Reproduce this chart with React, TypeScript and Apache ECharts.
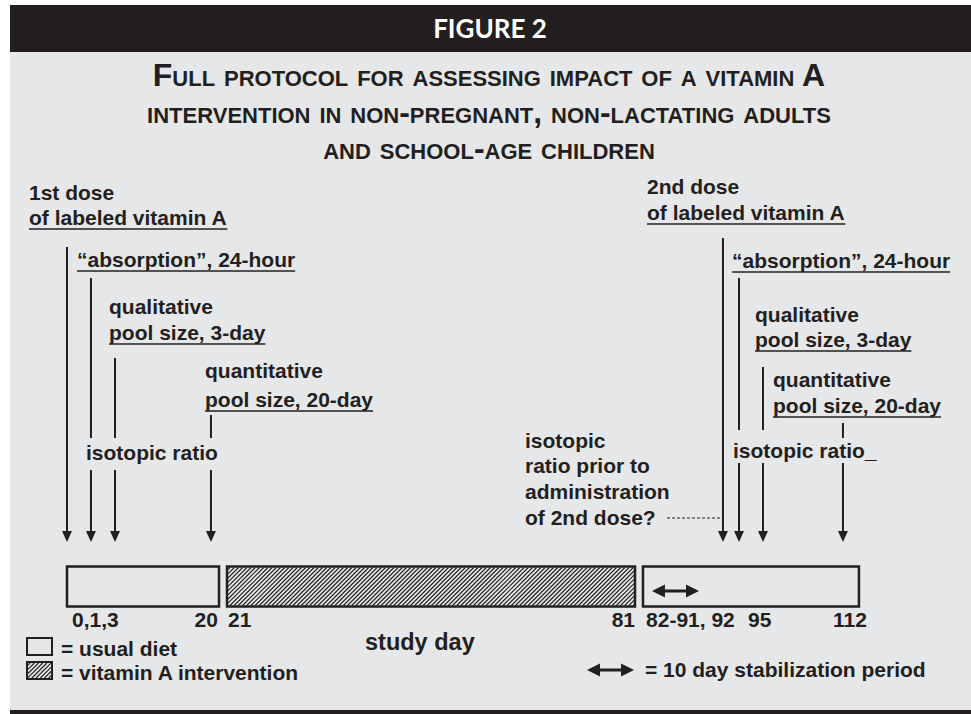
import React, { useEffect, useRef } from 'react';
import * as echarts from 'echarts';

// ---------------- data ----------------
// Study phases on the (schematic) study-day timeline
const phaseNames = ['usual diet', 'vitamin A intervention', 'usual diet'];
const phaseStart = [0, 22.63, 81.46];
const phaseEnd = [21.5, 80.33, 112];
const phaseHatched = [0, 1, 0];

// Sampling / dosing events (arrows) on the schematic timeline
const eventNames = [
  '1st dose', 'absorption 24-hour', 'qualitative pool size 3-day', 'quantitative pool size 20-day',
  '2nd dose', 'absorption 24-hour (2)', 'qualitative pool size 3-day (2)', 'quantitative pool size 20-day (2)',
];
const eventPos = [0, 3.39, 6.79, 20.36, 92.77, 95.04, 98.43, 109.74];

// Study-day tick labels
const dayLabels = ['0,1,3', '20', '21', '81', '82-91, 92', '95', '112'];
const dayLabelPos = [0.71, 21.35, 22.77, 80.33, 81.89, 96.31, 108.33];
const dayLabelAlign = ['left', 'right', 'left', 'right', 'left', 'left', 'left'];

// 10-day stabilization period (days 82-91)
const stabilizationRange = [82.73, 89.38];

// ---------------- layout / style ----------------
const W = 971;
const H = 714;
const INK = '#231f20';
const PAPER = '#e6e7e8';
const X_MIN = -9.475;
const X_MAX = 127.85;
const BAR_TOP = 566.5;
const BAR_BOTTOM = 606.5;
const ARROW_TIP = 542;
const EVENT_SEGMENTS: number[][][] = [
  [[247, ARROW_TIP]],
  [[278, 438], [470, ARROW_TIP]],
  [[358, 438], [470, ARROW_TIP]],
  [[415, 438], [470, ARROW_TIP]],
  [[238, ARROW_TIP]],
  [[278, 430], [463, ARROW_TIP]],
  [[367, 430], [463, ARROW_TIP]],
  [[423, 438], [463, ARROW_TIP]],
];

const bodyFont = (size: number) => `bold ${size}px 'Liberation Sans', Arial, sans-serif`;
const titleFont = `small-caps bold 32px 'Liberation Sans', Arial, sans-serif`;
const K_BODY = 0.347;

function hatchLines(x0: number, y0: number, x1: number, y1: number, step: number, lw: number) {
  const out: any[] = [];
  for (let c = x0 + y0 + step / 2; c < x1 + y1; c += step) {
    const sx = Math.max(x0, c - y1);
    const ex = Math.min(x1, c - y0);
    if (ex > sx) {
      out.push({
        type: 'line',
        shape: { x1: sx, y1: c - sx, x2: ex, y2: c - ex },
        style: { stroke: INK, lineWidth: lw },
      });
    }
  }
  return out;
}

function doubleArrow(x0: number, x1: number, y: number) {
  const head = 13;
  const half = 6.5;
  return [
    { type: 'line', shape: { x1: x0 + head - 1, y1: y, x2: x1 - head + 1, y2: y }, style: { stroke: INK, lineWidth: 3 } },
    { type: 'polygon', shape: { points: [[x0, y], [x0 + head, y - half], [x0 + head, y + half]] }, style: { fill: INK } },
    { type: 'polygon', shape: { points: [[x1, y], [x1 - head, y - half], [x1 - head, y + half]] }, style: { fill: INK } },
  ];
}

function textStyle(text: string, font: string, fill: string, align: string, extra: any = {}) {
  return {
    text,
    font,
    fill,
    align,
    verticalAlign: 'middle',
    textAlign: align,
    textVerticalAlign: 'middle',
    ...extra,
  };
}

export default function App() {
  const ref = useRef<HTMLDivElement>(null);

  useEffect(() => {
    if (!ref.current) return;
    const chart = echarts.init(ref.current, undefined, { renderer: 'svg', width: W, height: H });

    const ctx = document.createElement('canvas').getContext('2d') as CanvasRenderingContext2D;
    const measure = (t: string, f: string) => {
      ctx.font = f;
      return ctx.measureText(t).width;
    };

    const graphic: any[] = [];
    // backgrounds
    graphic.push({ type: 'rect', z: -10, shape: { x: 10, y: 52, width: W - 10, height: 658 }, style: { fill: PAPER } });
    graphic.push({ type: 'rect', z: -10, shape: { x: 10, y: 5, width: W - 10, height: 47 }, style: { fill: INK } });
    graphic.push({ type: 'rect', z: -10, shape: { x: 10, y: 710, width: W - 10, height: 4 }, style: { fill: INK } });

    // header
    graphic.push({ type: 'text', z: 10, x: 490, y: 28, style: textStyle('FIGURE 2', "bold 26px Lato, sans-serif", '#ffffff', 'center') });

    // title (small caps, three lines)
    graphic.push({
      type: 'text', z: 10, x: 489, y: 111.5,
      style: textStyle(
        'Full protocol for assessing impact of a vitamin A\nintervention in non-pregnant, non-lactating adults\nand school-age children',
        titleFont, INK, 'center', { lineHeight: 36.5 }
      ),
    });

    // annotations: [text, x, baseline, underline?, size]
    const notes: [string, number, number, boolean, number][] = [
      ['1st dose', 29, 200, false, 21],
      ['of labeled vitamin A', 29, 225, true, 21],
      ['\u201Cabsorption\u201D, 24-hour', 77, 267, true, 21],
      ['qualitative', 109, 314, false, 21],
      ['pool size, 3-day', 109, 340, true, 21],
      ['quantitative', 205, 378, false, 21],
      ['pool size, 20-day', 205, 407, true, 21],
      ['isotopic ratio', 86, 460, false, 21],
      ['2nd dose', 647, 194, false, 21],
      ['of labeled vitamin A', 647, 220, true, 21],
      ['\u201Cabsorption\u201D, 24-hour', 732, 268, true, 21],
      ['qualitative', 755, 322, false, 21],
      ['pool size, 3-day', 755, 347, true, 21],
      ['quantitative', 773, 387, false, 21],
      ['pool size, 20-day', 773, 413, true, 21],
      ['isotopic ratio_', 733, 458, false, 21],
      ['isotopic', 525, 448, false, 21],
      ['ratio prior to', 525, 473, false, 21],
      ['administration', 525, 499, false, 21],
      ['of 2nd dose?', 525, 525, false, 21],
      ['study day', 365, 650, false, 23.5],
      ['= usual diet', 61, 656, false, 21],
      ['= vitamin A intervention', 61, 680, false, 21],
      ['= 10 day stabilization period', 645, 677, false, 21],
    ];
    notes.forEach(([t, x, b, ul, size]) => {
      const f = bodyFont(size);
      graphic.push({ type: 'text', z: 10, x, y: b - K_BODY * size, style: textStyle(t, f, INK, 'left') });
      if (ul) {
        const w = measure(t, f);
        graphic.push({
          type: 'line', z: 10,
          shape: { x1: x, y1: b + 4, x2: x + w, y2: b + 4 },
          style: { stroke: INK, lineWidth: 1.6 },
        });
      }
    });

    // dashed connector to 2nd-dose line
    graphic.push({
      type: 'line', z: 10,
      shape: { x1: 667, y1: 518, x2: 722, y2: 518 },
      style: { stroke: INK, lineWidth: 1, lineDash: [3, 2] },
    });

    // legend boxes
    graphic.push({ type: 'rect', z: 10, shape: { x: 27, y: 638, width: 25, height: 17 }, style: { fill: 'none', stroke: INK, lineWidth: 2 } });
    graphic.push({ type: 'group', z: 10, children: hatchLines(28, 663, 51, 678, 4.2, 1.1) });
    graphic.push({ type: 'rect', z: 10, shape: { x: 27, y: 662, width: 25, height: 17 }, style: { fill: 'none', stroke: INK, lineWidth: 2 } });
    graphic.push({ type: 'group', z: 10, children: doubleArrow(587, 634, 670) });

    const option: any = {
      animation: false,
      backgroundColor: '#ffffff',
      grid: { left: 0, right: 0, top: 0, bottom: 0 },
      xAxis: { type: 'value', min: X_MIN, max: X_MAX, show: false },
      yAxis: { type: 'value', min: 0, max: H, inverse: true, show: false },
      graphic: { elements: graphic },
      series: [
        {
          name: 'phases',
          type: 'custom',
          silent: true,
          clip: false,
          z: 3,
          encode: { x: [0, 1], y: 2 },
          data: phaseStart.map((s, i) => ({ name: phaseNames[i], value: [s, phaseEnd[i], i, phaseHatched[i]] })),
          renderItem: (params: any, api: any) => {
            const x0 = api.coord([api.value(0), 0])[0];
            const x1 = api.coord([api.value(1), 0])[0];
            const y0 = api.coord([0, BAR_TOP])[1];
            const y1 = api.coord([0, BAR_BOTTOM])[1];
            const children: any[] = [];
            if (api.value(3)) children.push(...hatchLines(x0 + 1, y0 + 1, x1 - 1, y1 - 1, 4.2, 1.1));
            children.push({
              type: 'rect',
              shape: { x: x0, y: y0, width: x1 - x0, height: y1 - y0 },
              style: { fill: 'none', stroke: INK, lineWidth: 2.5 },
            });
            return { type: 'group', children };
          },
        },
        {
          name: 'events',
          type: 'custom',
          silent: true,
          clip: false,
          z: 4,
          encode: { x: 0, y: 1 },
          data: eventPos.map((p, i) => ({ name: eventNames[i], value: [p, i] })),
          renderItem: (params: any, api: any) => {
            const i = params.dataIndex;
            const x = api.coord([api.value(0), 0])[0];
            const segs = EVENT_SEGMENTS[i];
            const tip = api.coord([0, ARROW_TIP])[1];
            const children: any[] = segs.map(([a, b], k) => {
              const ya = api.coord([0, a])[1];
              const yb = k === segs.length - 1 ? tip - 9 : api.coord([0, b])[1];
              return { type: 'line', shape: { x1: x, y1: ya, x2: x, y2: yb }, style: { stroke: INK, lineWidth: 2 } };
            });
            children.push({
              type: 'polygon',
              shape: { points: [[x - 5, tip - 11], [x + 5, tip - 11], [x, tip]] },
              style: { fill: INK },
            });
            return { type: 'group', children };
          },
        },
        {
          name: 'stabilization',
          type: 'custom',
          silent: true,
          clip: false,
          z: 4,
          encode: { x: [0, 1], y: 2 },
          data: [[stabilizationRange[0], stabilizationRange[1], 0]],
          renderItem: (params: any, api: any) => {
            const x0 = api.coord([api.value(0), 0])[0];
            const x1 = api.coord([api.value(1), 0])[0];
            const y = api.coord([0, 591])[1];
            return { type: 'group', children: doubleArrow(x0, x1, y) };
          },
        },
        {
          name: 'day labels',
          type: 'custom',
          silent: true,
          clip: false,
          z: 4,
          encode: { x: 0, y: 1 },
          data: dayLabelPos.map((p, i) => ({ name: dayLabels[i], value: [p, i] })),
          renderItem: (params: any, api: any) => {
            const i = params.dataIndex;
            const x = api.coord([api.value(0), 0])[0];
            const y = api.coord([0, 627 - K_BODY * 21])[1];
            return {
              type: 'text',
              x,
              y,
              style: textStyle(dayLabels[i], bodyFont(21), INK, dayLabelAlign[i]),
            };
          },
        },
      ],
    };

    chart.setOption(option);
    return () => chart.dispose();
  }, []);

  return (
    <div
      ref={ref}
      style={{ position: 'fixed', left: 0, top: 0, width: W, height: H, background: '#ffffff' }}
    />
  );
}
